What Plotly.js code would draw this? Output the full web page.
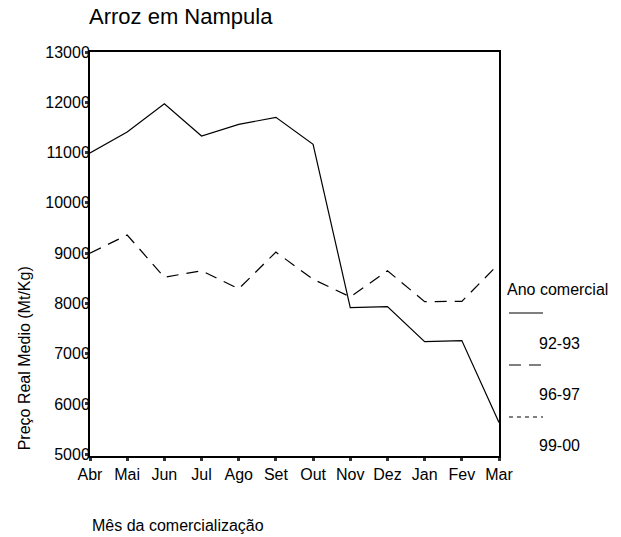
<!DOCTYPE html>
<html>
<head>
<meta charset="utf-8">
<script src="https://cdn.plot.ly/plotly-3.0.1.min.js"></script>
<style>html,body{margin:0;padding:0;background:#fff;}</style>
</head>
<body>
<div id="chart" style="width:621px;height:537px;"></div>
<script>
var months = ["Abr","Mai","Jun","Jul","Ago","Set","Out","Nov","Dez","Jan","Fev","Mar"];
var seriesNames = ["92-93","96-97","99-00"];
var s9293 = [10990, 11410, 11970, 11330, 11560, 11700, 11165, 7917, 7937, 7240, 7260, 5630];
var s9697 = [9000, 9360, 8520, 8650, 8290, 9020, 8480, 8130, 8650, 8036, 8040, 8790];
var s9900 = [null, null, null, null, null, null, null, null, null, null, null, null];
var yTicks = [5000, 6000, 7000, 8000, 9000, 10000, 11000, 12000, 13000];

var font = "Liberation Sans, Arial, sans-serif";
var dashes = ["solid", "12px,8px", "4px,4px"];
var allSeries = [s9293, s9697, s9900];

var traces = allSeries.map(function(s, i){
  return {x: months, y: s, type: "scatter", mode: "lines", name: seriesNames[i],
          line: {color: "#000", width: 1.2, dash: dashes[i]}, showlegend: false,
          hoverinfo: "x+y"};
});

// manual legend (sample above label, like the original)
var legShapes = [], legAnn = [];
var sampleY = [0.354, 0.2252, 0.0965];
var labelY = [0.2797, 0.151, 0.0272];
seriesNames.forEach(function(n, i){
  legShapes.push({type: "line", xref: "paper", yref: "paper", x0: 1.0244, x1: 1.1076,
    y0: sampleY[i], y1: sampleY[i], line: {color: "#000", width: 1.2, dash: dashes[i]}});
  legAnn.push({xref: "paper", yref: "paper", x: 1.093, y: labelY[i], xanchor: "left",
    yanchor: "middle", text: n, showarrow: false, font: {family: font, size: 16, color: "#000"}});
});
legAnn.push({xref: "paper", yref: "paper", x: 1.0147, y: 0.411, xanchor: "left", yanchor: "middle",
  text: "Ano comercial", showarrow: false, font: {family: font, size: 16, color: "#000"}});
legAnn.push({xref: "paper", yref: "paper", x: -0.158, y: 0.01, xanchor: "center", yanchor: "bottom",
  textangle: -90, text: "Preço Real Medio (Mt/Kg)", showarrow: false,
  font: {family: font, size: 16, color: "#000"}});
legAnn.push({xref: "paper", yref: "paper", x: 0, y: -0.171, xanchor: "left", yanchor: "middle",
  text: "Mês da comercialização", showarrow: false, font: {family: font, size: 16, color: "#000"}});

var layout = {
  width: 621, height: 537,
  margin: {l: 90, r: 122, t: 52, b: 81, pad: 0},
  paper_bgcolor: "#fff", plot_bgcolor: "#fff",
  font: {family: font, size: 16, color: "#000"},
  title: {text: "Arroz em Nampula", x: 89/621, xanchor: "left", xref: "container",
          y: 1 - 16/537, yanchor: "middle", font: {family: font, size: 22, color: "#000"}},
  xaxis: {type: "category", range: [0, 11], showgrid: false, zeroline: false,
          showline: true, linecolor: "#000", linewidth: 2, mirror: true,
          ticks: "outside", ticklen: 3, tickwidth: 3, tickcolor: "#333",
          tickfont: {family: font, size: 16, color: "#000"}},
  yaxis: {range: [4965, 13000], tickvals: yTicks, tickformat: "d", showgrid: false, zeroline: false,
          showline: true, linecolor: "#000", linewidth: 2, mirror: true,
          ticks: "outside", ticklen: 3, tickwidth: 3, tickcolor: "#333",
          ticklabelstandoff: -8,
          tickfont: {family: font, size: 16, color: "#000"}},
  shapes: legShapes,
  annotations: legAnn,
  showlegend: false
};

Plotly.newPlot("chart", traces, layout, {displayModeBar: false, staticPlot: true});
</script>
</body>
</html>
